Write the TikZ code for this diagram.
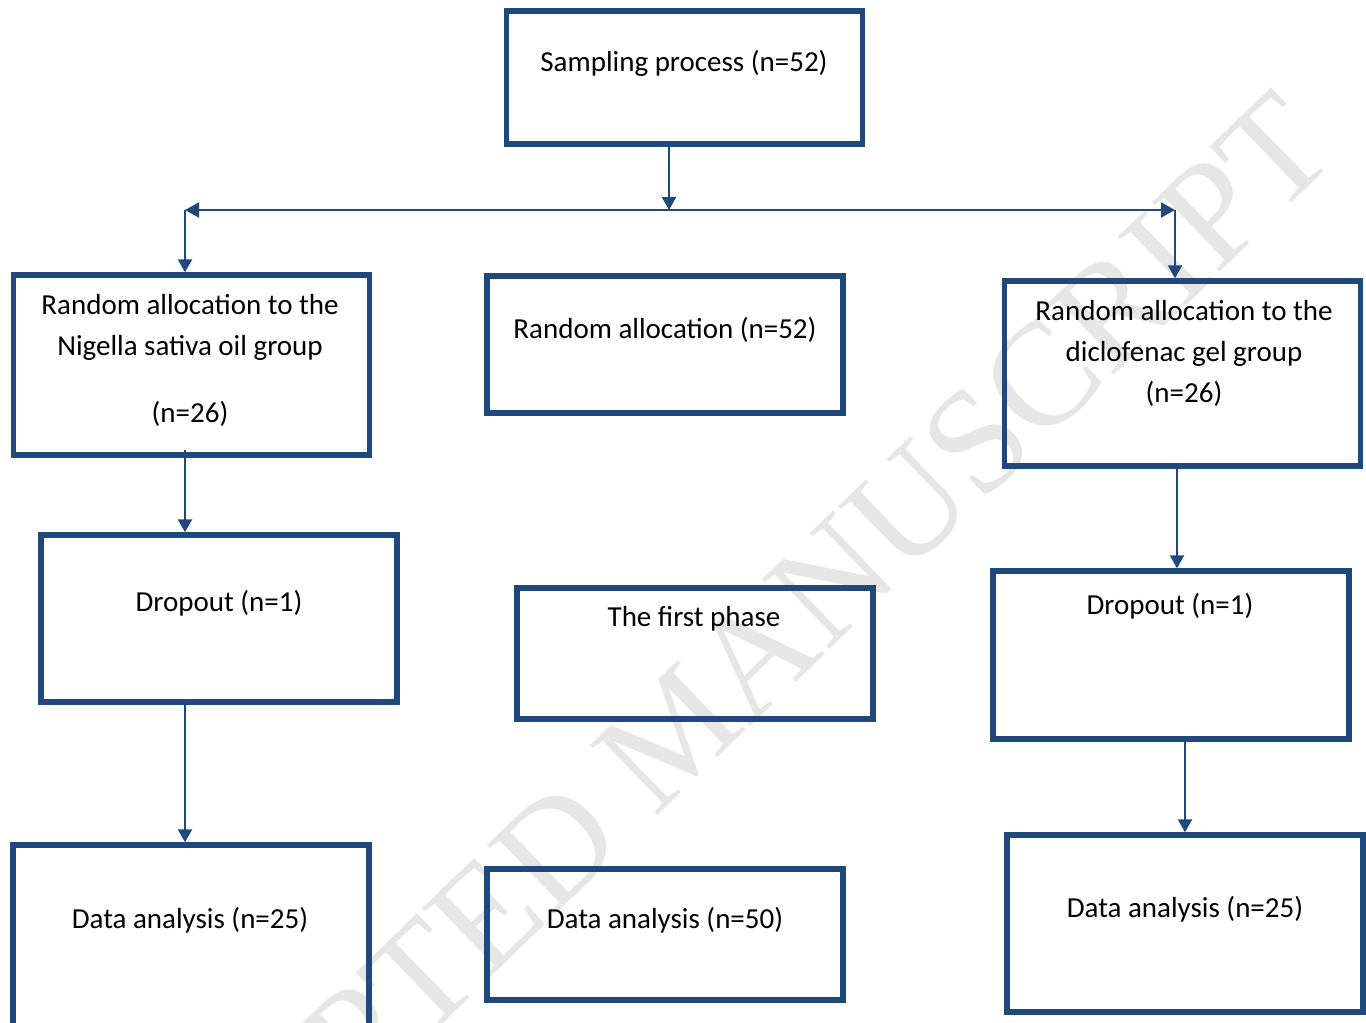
\documentclass[tikz,border=0pt]{standalone}
\usepackage{fontspec}
\setmainfont{Carlito}
\newfontfamily\wmfont{Liberation Serif}
\usetikzlibrary{arrows.meta}
\definecolor{frame}{RGB}{31,73,125}
\definecolor{wmgray}{RGB}{230,230,230}
\begin{document}
\begin{tikzpicture}[x=1pt,y=-1pt,
  box/.style={draw=frame, line width=5.5pt, minimum width=356pt, inner sep=0pt},
  lbl/.style={font=\fontsize{29}{41}\selectfont, align=center, text=black, inner sep=0pt},
  tip/.style={-{Triangle[length=13pt,width=14pt]}},
  conn/.style={draw=frame, line width=2.4pt}]
\useasboundingbox (0,0) rectangle (1366,1023);
\begin{scope}
\clip (0,0) rectangle (1366,1023);
% watermark behind the chart
\node[font=\wmfont\fontsize{148}{148}\selectfont, text=wmgray, rotate=44, inner sep=0pt] (wm) at (676,731) {ACCEPTED MANUSCRIPT};

% boxes
\node[box, minimum height=133pt] (samp) at (684.5,77.5) {};
\node[box, minimum height=180pt] (rL) at (191.5,365) {};
\node[box, minimum height=137pt] (rM) at (665,344.5) {};
\node[box, minimum height=185pt] (rR) at (1182.5,373.5) {};
\node[box, minimum height=167pt] (dL) at (219,618.5) {};
\node[box, minimum height=131pt] (fp) at (695,653.5) {};
\node[box, minimum height=168pt] (dR) at (1171,655) {};
\node[box, minimum height=200pt] (aL) at (191,945) {};
\node[box, minimum height=131pt] (aM) at (665,934.5) {};
\node[box, minimum height=177pt] (aR) at (1185,923.5) {};

% labels
\node[lbl] (sampT) at (684,63) {Sampling process (n=52)};
\node[lbl] (rLT) at (190,360) {Random allocation to the\\Nigella sativa oil group\\[26pt](n=26)};
\node[lbl] (rMT) at (665,330) {Random allocation (n=52)};
\node[lbl] (rRT) at (1184,353) {Random allocation to the\\diclofenac gel group\\(n=26)};
\node[lbl] (dLT) at (219,603) {Dropout (n=1)};
\node[lbl] (fpT) at (694,619) {The first phase};
\node[lbl] (dRT) at (1170,606) {Dropout (n=1)};
\node[lbl] (aLT) at (190,920) {Data analysis (n=25)};
\node[lbl] (aMT) at (665,920) {Data analysis (n=50)};
\node[lbl] (aRT) at (1185,909) {Data analysis (n=25)};

% connectors
\coordinate (split) at (669,210);
\coordinate (lt) at (185,210);
\coordinate (rt) at (1175,210);
\draw[conn, tip] (samp.south -| split) -- (split);
\draw[conn, {Triangle[length=14pt,width=15pt]}-{Triangle[length=14pt,width=15pt]}] (lt) -- (rt);
\draw[conn, tip] (lt) -- (lt |- rL.north);
\draw[conn, tip] (rt) -- (rt |- rR.north);
\draw[conn, tip, shorten <=-8pt] (lt |- rL.south) -- (lt |- dL.north);
\draw[conn, tip, shorten <=-6pt] (lt |- dL.south) -- (lt |- aL.north);
\draw[conn, tip, shorten <=-1pt] ([xshift=-5.5pt]rR.south) -- ([xshift=6pt]dR.north);
\draw[conn, tip, shorten <=-6pt] ([xshift=14pt]dR.south) -- (aR.north);
\end{scope}
\end{tikzpicture}
\end{document}
